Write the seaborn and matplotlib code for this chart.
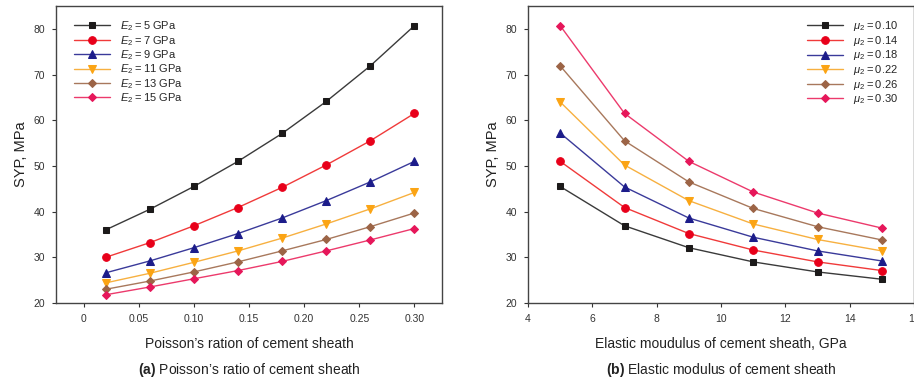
import matplotlib
matplotlib.use("Agg")
import matplotlib.pyplot as plt
import seaborn as sns
import pandas as pd

# ---- data ----
poisson = [0.02, 0.06, 0.10, 0.14, 0.18, 0.22, 0.26, 0.30]
modulus = [5, 7, 9, 11, 13, 15]
e_labels = ["5", "7", "9", "11", "13", "15"]
mu_labels = ["0.10", "0.14", "0.18", "0.22", "0.26", "0.30"]

syp_E5 = [36.0, 40.5, 45.5, 51.0, 57.1, 64.1, 71.9, 80.7]
syp_E7 = [30.0, 33.2, 36.9, 40.9, 45.3, 50.2, 55.5, 61.5]
syp_E9 = [26.6, 29.2, 32.1, 35.2, 38.6, 42.4, 46.5, 51.0]
syp_E11 = [24.4, 26.5, 28.9, 31.4, 34.2, 37.3, 40.6, 44.2]
syp_E13 = [23.0, 24.8, 26.8, 29.0, 31.4, 33.9, 36.7, 39.7]
syp_E15 = [21.8, 23.5, 25.3, 27.1, 29.1, 31.4, 33.8, 36.3]

syp_mu010 = [45.5, 36.9, 32.1, 29.0, 26.8, 25.2]
syp_mu014 = [51.0, 40.9, 35.2, 31.6, 29.0, 27.1]
syp_mu018 = [57.2, 45.4, 38.6, 34.4, 31.4, 29.2]
syp_mu022 = [64.0, 50.2, 42.4, 37.3, 33.9, 31.4]
syp_mu026 = [71.9, 55.5, 46.5, 40.7, 36.7, 33.8]
syp_mu030 = [80.7, 61.5, 51.0, 44.3, 39.7, 36.4]

left_series = [syp_E5, syp_E7, syp_E9, syp_E11, syp_E13, syp_E15]
right_series = [syp_mu010, syp_mu014, syp_mu018, syp_mu022, syp_mu026, syp_mu030]

marker_colors = ["#1c1a1a", "#e8001a", "#1c1c8a", "#fba414", "#9c6446", "#e6175a"]
line_colors = ["#3a3a3a", "#f03a3a", "#3a3a9a", "#f7b040", "#a8785c", "#ec3a6c"]
markers = ["s", "o", "^", "v", "D", "D"]
msizes = [5, 5.5, 5.5, 5.5, 4.5, 4.5]

sns.set_theme(style="ticks")
plt.rcParams["font.family"] = ["Liberation Sans", "DejaVu Sans"]
plt.rcParams["mathtext.fontset"] = "custom"
plt.rcParams["mathtext.rm"] = "Liberation Sans"
plt.rcParams["mathtext.it"] = "Liberation Sans:italic"
plt.rcParams["mathtext.bf"] = "Liberation Sans:bold"

fig = plt.figure(figsize=(9.14, 3.84), dpi=100)
axL = fig.add_axes([56 / 914, 1 - 303 / 384, (442 - 56) / 914, (303 - 6) / 384])
axR = fig.add_axes([528 / 914, 1 - 303 / 384, (914 - 528) / 914, (303 - 6) / 384])

TS = "\u2009"
for i, ys in enumerate(left_series):
    df = pd.DataFrame({"x": poisson, "y": ys})
    sns.lineplot(data=df, x="x", y="y", ax=axL, color=line_colors[i], lw=1.0,
                 marker=markers[i], markersize=msizes[i], markerfacecolor=marker_colors[i],
                 markeredgecolor=marker_colors[i],
                 label=r"$E_2$" + TS + "=" + TS + e_labels[i] + " GPa")

for i, ys in enumerate(right_series):
    df = pd.DataFrame({"x": modulus, "y": ys})
    sns.lineplot(data=df, x="x", y="y", ax=axR, color=line_colors[i], lw=1.0,
                 marker=markers[i], markersize=msizes[i], markerfacecolor=marker_colors[i],
                 markeredgecolor=marker_colors[i],
                 label=r"$\mu_2$" + TS + "=" + TS + mu_labels[i])

for ax in (axL, axR):
    ax.set_ylim(20, 85)
    ax.set_yticks([20, 30, 40, 50, 60, 70, 80])
    ax.set_ylabel("SYP, MPa", fontsize=10.5, color="#222222", labelpad=4)
    ax.tick_params(axis="both", direction="out", length=3, width=0.8,
                   labelsize=7.5, colors="#333333", pad=5)
    for s in ax.spines.values():
        s.set_color("#444444")
        s.set_linewidth(1.0)

axL.set_xlim(-0.025, 0.325)
axL.set_xticks([0, 0.05, 0.10, 0.15, 0.20, 0.25, 0.30])
axL.set_xticklabels(["0", "0.05", "0.10", "0.15", "0.20", "0.25", "0.30"])
axL.set_xlabel("Poisson’s ration of cement sheath", fontsize=10, color="#222222", labelpad=9)

axR.set_xlim(4, 16)
axR.set_xticks([4, 6, 8, 10, 12, 14, 16])
axR.set_xlabel("Elastic moudulus of cement sheath, GPa", fontsize=10, color="#222222", labelpad=9)

axL.legend(loc="upper left", bbox_to_anchor=(0.035, 0.97), frameon=False, fontsize=8,
           handlelength=3.2, labelspacing=0.05, handletextpad=0.9, borderaxespad=0)
axR.legend(loc="upper right", bbox_to_anchor=(0.97, 0.97), frameon=False, fontsize=8,
           handlelength=3.2, labelspacing=0.05, handletextpad=0.9, borderaxespad=0)

fig.text(249 / 914, 1 - 370 / 384, r"$\mathbf{(a)}$ Poisson’s ratio of cement sheath",
         ha="center", va="center", fontsize=10, color="#222222")
fig.text(721 / 914, 1 - 370 / 384, r"$\mathbf{(b)}$ Elastic modulus of cement sheath",
         ha="center", va="center", fontsize=10, color="#222222")

fig.savefig("out.png", dpi=100)
